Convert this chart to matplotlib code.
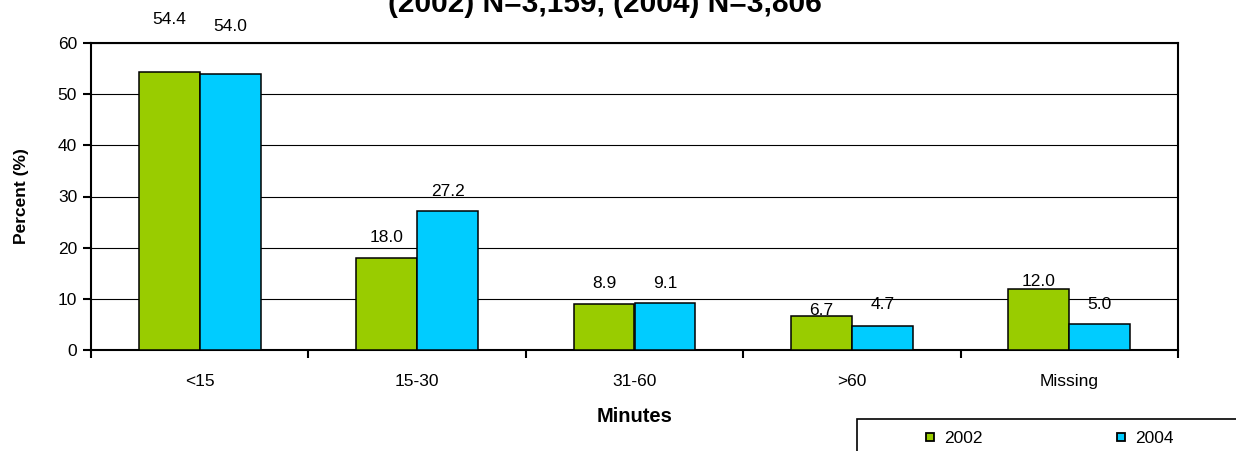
import numpy as np
import matplotlib
matplotlib.use("Agg")
import matplotlib.pyplot as plt
from matplotlib.lines import Line2D
from matplotlib.patches import Rectangle

plt.rcParams["font.family"] = ["Liberation Sans", "DejaVu Sans"]

GREEN, CYAN = "#99cc00", "#00ccff"

categories = ["<15", "15-30", "31-60", ">60", "Missing"]
pct_2002 = [54.4, 18.0, 8.9, 6.7, 12.0]
pct_2004 = [54.0, 27.2, 9.1, 4.7, 5.0]

# label lift above bar top, in data units (labels sit unevenly in the source)
lift_2002 = [10.1, 3.9, 4.0, 1.1, 1.3]
lift_2004 = [9.3, 3.7, 3.8, 4.1, 3.8]

W, H = 1236, 451
fig = plt.figure(figsize=(W / 100, H / 100), dpi=100, facecolor="white")
ax = fig.add_axes([91 / W, 1 - 350 / H, (1178 - 91) / W, (350 - 43) / H])

x = np.arange(len(categories))
bw = 0.28
ax.bar(x - bw / 2, pct_2002, bw, color=GREEN, edgecolor="black", linewidth=1.1, zorder=3)
ax.bar(x + bw / 2, pct_2004, bw, color=CYAN, edgecolor="black", linewidth=1.1, zorder=3)

for i in range(len(categories)):
    ax.text(x[i] - bw / 2, pct_2002[i] + lift_2002[i], f"{pct_2002[i]:.1f}",
            ha="center", va="center", fontsize=12.5, clip_on=False)
    ax.text(x[i] + bw / 2, pct_2004[i] + lift_2004[i], f"{pct_2004[i]:.1f}",
            ha="center", va="center", fontsize=12.5, clip_on=False)

ax.set_xlim(-0.5, len(categories) - 0.5)
ax.set_ylim(0, 60)
ax.set_yticks(range(0, 61, 10))
ax.yaxis.grid(True, color="black", linewidth=0.8, zorder=0)
ax.set_axisbelow(True)

ax.set_xticks(x)
ax.set_xticklabels(categories, fontsize=12.5)
ax.set_xticks(np.arange(-0.5, len(categories)), minor=True)
ax.tick_params(axis="x", which="major", length=0, pad=17)
ax.tick_params(axis="x", which="minor", length=6, width=1.5, direction="out")
ax.tick_params(axis="y", length=6, width=1.5, direction="out", labelsize=12.5, pad=4)

for s in ax.spines.values():
    s.set_linewidth(1.5)
    s.set_color("black")

ax.set_ylabel("Percent (%)", fontsize=12.5, fontweight="bold", labelpad=21)
ax.set_xlabel("Minutes", fontsize=14.5, fontweight="bold", labelpad=13)

fig.text(605 / W, 1 - 12 / H, "(2002) N=3,159, (2004) N=3,806",
         ha="center", va="baseline", fontsize=21.5, fontweight="bold")

# legend box runs past the bottom/right edge of the canvas
fig.add_artist(Rectangle((857 / W, -0.1), 0.5, 0.1 + (H - 419) / H,
                         transform=fig.transFigure, facecolor="white",
                         edgecolor="black", linewidth=1.2))
handles = [
    Line2D([], [], marker="s", linestyle="none", markersize=6,
           markerfacecolor=GREEN, markeredgecolor="black", markeredgewidth=1.3),
    Line2D([], [], marker="s", linestyle="none", markersize=6,
           markerfacecolor=CYAN, markeredgecolor="black", markeredgewidth=1.3),
]
fig.legend(handles, ["2002", "2004"], ncol=2, frameon=False, fontsize=12.5,
           loc="center left", bbox_to_anchor=(925 / W, 1 - 438 / H),
           borderaxespad=0, borderpad=0, handlelength=0.6, handletextpad=0.5,
           columnspacing=7.7)

fig.savefig("out.png", dpi=100, facecolor="white")
